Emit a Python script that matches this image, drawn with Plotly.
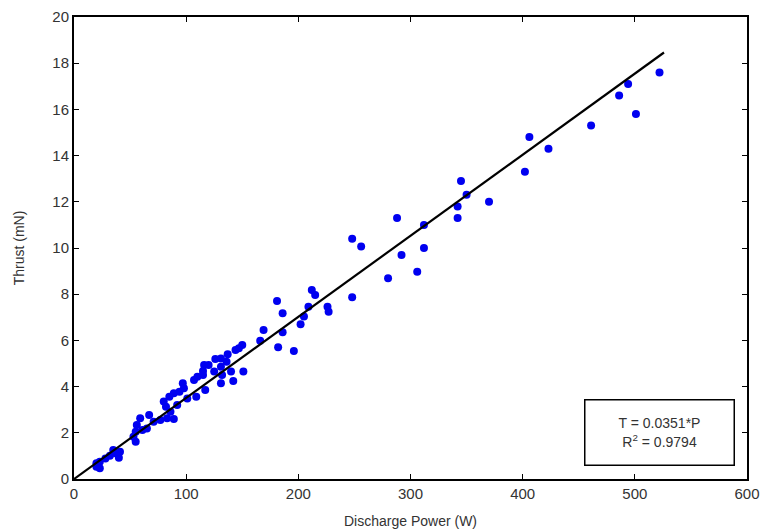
import numpy as np
import plotly.graph_objects as go

power_w = [522, 494, 486, 501, 461, 406, 423, 402, 345, 350, 370, 342, 288, 312, 342, 312, 292,
           248, 256, 280, 306,
           248, 212, 215, 209, 226, 227, 181, 186, 186, 182, 196, 202, 205, 169, 166, 150, 147, 144,
           151, 142, 140, 137, 136, 131, 126, 131, 132, 131, 125, 120, 116, 115, 115, 110, 107, 117,
           109, 101, 97, 98, 94, 89, 85, 80, 82, 86, 92, 89, 83, 77, 71, 67, 65, 61, 59, 56, 55, 53,
           55, 41, 40, 37, 32, 28, 23, 20, 23, 20, 35]
thrust_mn = [17.6, 17.1, 16.6, 15.8, 15.3, 14.8, 14.3, 13.3, 12.9, 12.3, 12.0, 11.8, 11.3, 11.0, 11.3, 10.0, 9.7,
             10.4, 10.06, 8.69, 8.97,
             7.87, 8.18, 7.97, 7.46, 7.46, 7.24, 7.71, 7.17, 6.35, 5.70, 5.54, 6.70, 7.03, 6.45, 5.99, 5.80, 5.66, 5.58,
             4.65, 4.24, 4.65, 5.40, 5.08, 5.22, 5.19, 4.86, 4.50, 4.14, 4.65, 4.93, 4.93, 4.68, 4.50, 4.43, 4.29, 3.85,
             3.56, 3.49, 4.14, 3.93, 3.78, 3.71, 3.56, 3.35, 3.13, 2.91, 3.20, 2.60, 2.63, 2.55, 2.48, 2.77, 2.19, 2.12, 2.63, 2.34, 2.05, 1.83,
             1.61, 1.18, 0.92, 1.11, 1.01, 0.89, 0.75, 0.68, 0.46, 0.53, 1.26]

fit_slope = 0.0351
fit_r2 = 0.9794
fit_power_range = [0, 526]

x_ticks = [0, 100, 200, 300, 400, 500, 600]
y_ticks = [0, 2, 4, 6, 8, 10, 12, 14, 16, 18, 20]

fit_x = np.array(fit_power_range, dtype=float)
fit_y = fit_slope * fit_x

fig = go.Figure()
fig.add_trace(go.Scatter(x=power_w, y=thrust_mn, mode="markers",
                         marker=dict(color="#0000f0", size=8, line=dict(width=0)),
                         showlegend=False))
fig.add_trace(go.Scatter(x=fit_x, y=fit_y, mode="lines",
                         line=dict(color="black", width=2.2), showlegend=False))

font_family = "Liberation Sans, Arial, sans-serif"
axis_common = dict(showgrid=False, zeroline=False, showline=True, linecolor="black",
                   linewidth=2, mirror="ticks", ticks="inside", ticklen=5, tickwidth=1,
                   tickcolor="black", automargin=False,
                   tickfont=dict(family=font_family, size=15, color="#333333"))

fig.update_xaxes(range=[0, 600], tickvals=x_ticks,
                 title=dict(text="Discharge Power (W)", font=dict(family=font_family, size=14, color="#333333"),
                            standoff=15),
                 **axis_common)
fig.update_yaxes(range=[0, 20], tickvals=y_ticks,
                 title=dict(text="Thrust (mN)", font=dict(family=font_family, size=14, color="#333333"),
                            standoff=24),
                 **axis_common)

fig.add_annotation(x=522, y=2.0, xref="x", yref="y",
                   text=f"T = {fit_slope}*P<br>R<sup>2</sup> = {fit_r2}",
                   showarrow=False, align="center",
                   font=dict(family=font_family, size=14, color="#333333"),
                   bordercolor="black", borderwidth=1.5, bgcolor="white",
                   width=146, height=62)

fig.update_layout(width=768, height=529, plot_bgcolor="white", paper_bgcolor="white",
                  margin=dict(l=74, r=21, t=17, b=50))

fig.write_html("out.html", config={"displayModeBar": False},
               post_script="document.body.style.margin='0';")
